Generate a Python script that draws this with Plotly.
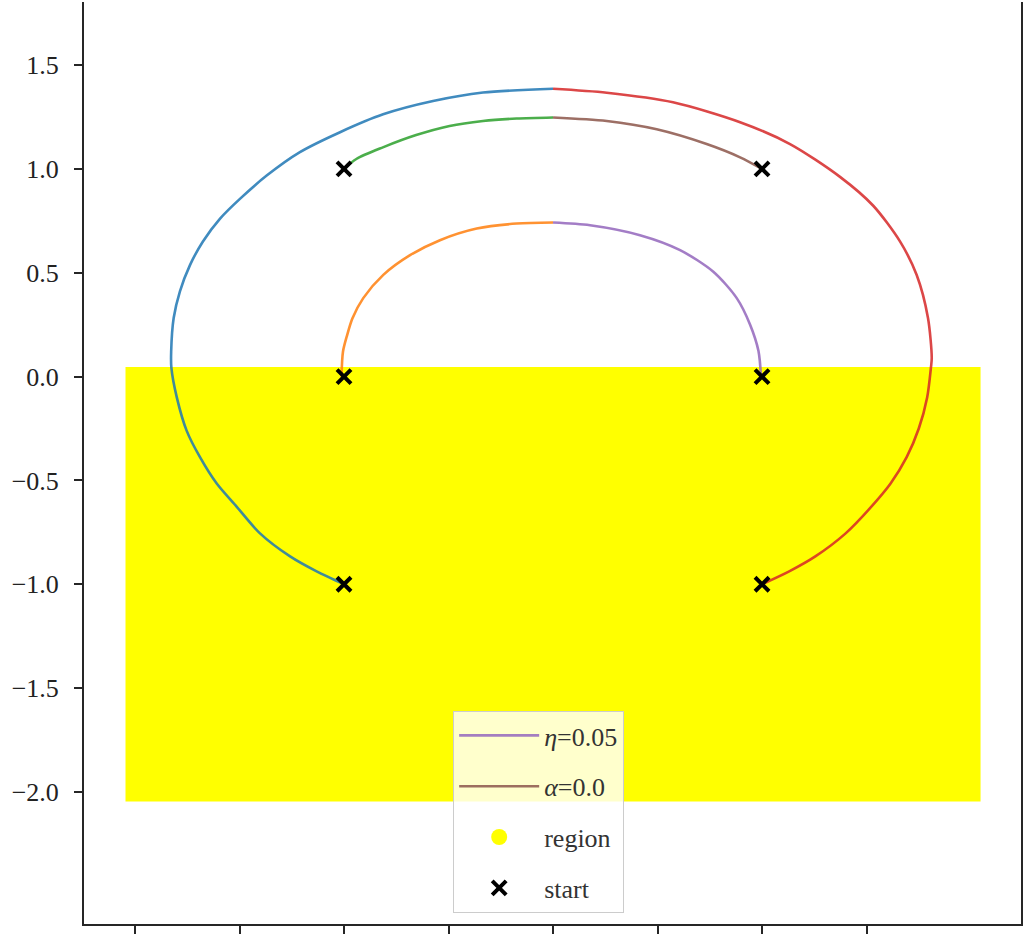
import plotly.graph_objects as go

# Admissible region (rectangle bounds; outline retraces the first edge so the corner closes)
region_x = [-2.0, 2.0, 2.0, -2.0, -2.0, 2.0]
region_y = [-2.0, -2.0, 0.0, 0.0, -2.0, -2.0]

# Start points of the trajectories
start_x = [-1.0, -1.0, -1.0, 1.0, 1.0, 1.0]
start_y = [-1.0, 0.0, 1.0, -1.0, 0.0, 1.0]

# Trajectories (x, y samples along each path)
traj_blue_x = [-1.0, -1.131, -1.258, -1.402, -1.513, -1.609, -1.689, -1.753, -1.800, -1.826,
               -1.827, -1.815, -1.785, -1.737, -1.675, -1.593, -1.498, -1.370, -1.211, -1.019,
               -0.813, -0.574, -0.335, 0.0]
traj_blue_y = [-1.0, -0.938, -0.866, -0.755, -0.627, -0.515, -0.388, -0.260, -0.100, 0.043,
               0.120, 0.282, 0.411, 0.537, 0.651, 0.761, 0.856, 0.968, 1.081, 1.177,
               1.263, 1.327, 1.368, 1.386]

traj_orange_x = [-1.012, -1.005, -0.985, -0.960, -0.908, -0.812, -0.684, -0.541, -0.365, -0.174, 0.0]
traj_orange_y = [0.0, 0.120, 0.200, 0.280, 0.378, 0.490, 0.585, 0.657, 0.713, 0.737, 0.742]

traj_green_x = [-1.0, -0.941, -0.814, -0.655, -0.495, -0.335, -0.174, 0.0]
traj_green_y = [1.0, 1.048, 1.104, 1.163, 1.207, 1.231, 1.243, 1.248]

traj_red_x = [0.0, 0.257, 0.574, 0.895, 1.134, 1.373, 1.531, 1.660, 1.740, 1.794, 1.812,
              1.808, 1.790, 1.750, 1.692, 1.615, 1.520, 1.400, 1.255, 1.130, 1.0]
traj_red_y = [1.386, 1.367, 1.321, 1.225, 1.120, 0.962, 0.824, 0.651, 0.489, 0.282, 0.091,
              0.043, -0.100, -0.250, -0.388, -0.515, -0.630, -0.755, -0.866, -0.938, -1.0]

traj_purple_x = [0.0, 0.177, 0.416, 0.608, 0.767, 0.879, 0.943, 0.983, 0.995]
traj_purple_y = [0.742, 0.729, 0.681, 0.609, 0.505, 0.378, 0.250, 0.123, 0.0]

traj_brown_x = [0.0, 0.257, 0.496, 0.735, 0.895, 1.0]
traj_brown_y = [1.248, 1.231, 1.191, 1.120, 1.056, 1.0]

y_ticks = [-2.0, -1.5, -1.0, -0.5, 0.0, 0.5, 1.0, 1.5]
x_ticks = [-2.0, -1.5, -1.0, -0.5, 0.0, 0.5, 1.0, 1.5]

SERIF = "Liberation Serif, DejaVu Serif, serif"

fig = go.Figure()

# Region fill (thick outline of the same colour widens the edges like scatter dots)
fig.add_trace(go.Scatter(
    x=region_x, y=region_y, mode="lines", fill="toself",
    fillcolor="#ffff00", line=dict(color="#ffff00", width=19),
    showlegend=False, hoverinfo="skip",
))

trajectories = [
    (traj_blue_x, traj_blue_y, "#1f77b4", None),
    (traj_orange_x, traj_orange_y, "#ff7f0e", None),
    (traj_green_x, traj_green_y, "#2ca02c", None),
    (traj_red_x, traj_red_y, "#d62728", None),
    (traj_purple_x, traj_purple_y, "#9467bd", "<i>η</i>=0.05"),
    (traj_brown_x, traj_brown_y, "#8c564b", "<i>α</i>=0.0"),
]
for i, (tx, ty, col, label) in enumerate(trajectories):
    fig.add_trace(go.Scatter(
        x=tx, y=ty, mode="lines",
        line=dict(color=col, width=2.6, shape="spline", smoothing=0.8),
        opacity=0.85, name=label or "", showlegend=label is not None,
        legendgroup=f"g{i}",
    ))

# Legend entry for the region
fig.add_trace(go.Scatter(
    x=[None], y=[None], mode="markers", name="region",
    marker=dict(color="#ffff00", size=20, symbol="circle"),
    legendgroup="region",
))

# Start markers
fig.add_trace(go.Scatter(
    x=start_x, y=start_y, mode="markers", name="start",
    marker=dict(symbol="x-thin", size=14, color="black",
                line=dict(color="black", width=4)),
    legendgroup="start",
))

axis_common = dict(
    showgrid=False, zeroline=False, showline=True, linecolor="#262626",
    linewidth=2, ticks="outside", ticklen=8, tickwidth=1.5,
    tickcolor="#262626",
)

fig.update_layout(
    width=1025, height=934,
    margin=dict(l=84, r=4, t=2, b=4),
    plot_bgcolor="white", paper_bgcolor="white",
    xaxis=dict(range=[-2.244, 2.239], tickvals=x_ticks, showticklabels=False,
               mirror=False, **axis_common),
    yaxis=dict(range=[-2.636, 1.804], tickvals=y_ticks, tickformat=".1f",
               tickfont=dict(family=SERIF, size=26, color="#222222"),
               ticklabelstandoff=10, mirror=True, **axis_common),
    legend=dict(
        x=0.394, y=0.231, xanchor="left", yanchor="top",
        bgcolor="rgba(255,255,255,0.8)", bordercolor="#cccccc", borderwidth=1,
        font=dict(family=SERIF, size=26, color="#333333"),
        traceorder="grouped", tracegroupgap=14, itemwidth=80,
    ),
)

fig.write_html("out.html")
